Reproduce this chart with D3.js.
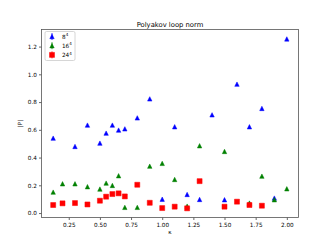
<!DOCTYPE html>
<html>
<head>
<meta charset="utf-8">
<script src="https://cdn.jsdelivr.net/npm/d3@7"></script>
<style>
  body { margin: 0; background: #fff; }
  text { font-family: "DejaVu Sans", sans-serif; fill: #000; }
</style>
</head>
<body>
<div id="chart"></div>
<script>
// Polyakov loop norm vs kappa, three lattice sizes

// Load the data
const x8 = [0.125, 0.3, 0.4, 0.5, 0.55, 0.6, 0.65, 0.7, 0.8, 0.9, 1.0, 1.1, 1.2, 1.3, 1.4, 1.5, 1.6, 1.7, 1.8, 1.9, 2.0];
const y8 = [0.54, 0.48, 0.634, 0.504, 0.576, 0.634, 0.598, 0.607, 0.686, 0.823, 0.10, 0.622, 0.134, 0.098, 0.708, 0.096, 0.929, 0.622, 0.754, 0.108, 1.255];

const x16 = [0.125, 0.2, 0.3, 0.4, 0.5, 0.55, 0.6, 0.65, 0.7, 0.8, 0.9, 1.0, 1.1, 1.2, 1.3, 1.5, 1.7, 1.8, 1.9, 2.0];
const y16 = [0.151, 0.211, 0.211, 0.19, 0.173, 0.216, 0.199, 0.269, 0.041, 0.041, 0.338, 0.358, 0.242, 0.05, 0.485, 0.444, 0.072, 0.266, 0.096, 0.175];

const x24 = [0.125, 0.2, 0.3, 0.4, 0.5, 0.55, 0.6, 0.65, 0.7, 0.8, 0.9, 1.0, 1.1, 1.2, 1.3, 1.5, 1.6, 1.7, 1.8];
const y24 = [0.058, 0.07, 0.072, 0.062, 0.089, 0.118, 0.137, 0.142, 0.12, 0.204, 0.074, 0.036, 0.046, 0.034, 0.23, 0.046, 0.082, 0.058, 0.053];

const xTicks = [0.25, 0.5, 0.75, 1.0, 1.25, 1.5, 1.75, 2.0];
const yTicks = [0.0, 0.2, 0.4, 0.6, 0.8, 1.0, 1.2];

const seriesNames = ["8", "16", "24"];
const seriesColors = ["#0000ff", "#008000", "#ff0000"];
const seriesShapes = ["tri", "tri", "sq"];

// Set up the chart dimensions
const W = 332, H = 249;
const margin = { top: 29.5, right: 33.5, bottom: 31.5, left: 41.5 };
const width = W - margin.left - margin.right;
const height = H - margin.top - margin.bottom;

const svg = d3.select("#chart")
    .append("svg")
    .attr("width", W)
    .attr("height", H);

const g = svg.append("g")
    .attr("transform", "translate(" + margin.left + "," + margin.top + ")");

const x = d3.scaleLinear().domain([0.03125, 2.09375]).range([0, width]);
const y = d3.scaleLinear().domain([-0.032, 1.323]).range([height, 0]);

// Axes
const xAxis = g.append("g")
    .attr("transform", "translate(0," + height + ")")
    .call(d3.axisBottom(x).tickValues(xTicks).tickFormat(d3.format(".2f")).tickSize(2.5).tickPadding(2.5));
const yAxis = g.append("g")
    .call(d3.axisLeft(y).tickValues(yTicks).tickFormat(d3.format(".1f")).tickSize(2.5).tickPadding(2.2));

[xAxis, yAxis].forEach(a => {
    a.select(".domain").remove();
    a.selectAll("line").attr("stroke", "#000").attr("stroke-width", 0.6);
    a.selectAll("text").style("font-size", "5.7px").attr("fill", "#000");
});

// Frame
g.append("rect")
    .attr("x", 0).attr("y", 0)
    .attr("width", width).attr("height", height)
    .attr("fill", "none")
    .attr("stroke", "#555")
    .attr("stroke-width", 0.8);

// Marker paths
function markerPath(shape, s) {
    if (shape === "tri") {
        return "M0," + (-s) + "L" + s + "," + s + "L" + (-s) + "," + s + "Z";
    }
    return "M" + (-s) + "," + (-s) + "H" + s + "V" + s + "H" + (-s) + "Z";
}

const series = [
    { xs: x8, ys: y8 },
    { xs: x16, ys: y16 },
    { xs: x24, ys: y24 }
];

series.forEach((s, i) => {
    const pts = s.xs.map((v, j) => [v, s.ys[j]]);
    g.append("g").selectAll("path")
        .data(pts)
        .enter().append("path")
        .attr("transform", d => "translate(" + x(d[0]) + "," + y(d[1]) + ")")
        .attr("d", markerPath(seriesShapes[i], seriesShapes[i] === "tri" ? 2.2 : 2.5))
        .attr("fill", seriesColors[i])
        .attr("stroke", seriesColors[i])
        .attr("stroke-width", 0.5);
});

// Title and axis labels
svg.append("text")
    .attr("x", margin.left + width / 2)
    .attr("y", 26.5)
    .attr("text-anchor", "middle")
    .style("font-size", "6.8px")
    .text("Polyakov loop norm");

svg.append("text")
    .attr("x", margin.left + width / 2)
    .attr("y", 234)
    .attr("text-anchor", "middle")
    .style("font-size", "5.7px")
    .text("κ");

svg.append("text")
    .attr("transform", "translate(22," + (margin.top + height / 2) + ") rotate(-90)")
    .attr("text-anchor", "middle")
    .style("font-size", "5.7px")
    .text("|P|");

// Legend
const legend = g.append("g").attr("transform", "translate(3.5,2)");
legend.append("rect")
    .attr("width", 30).attr("height", 29)
    .attr("rx", 1.5)
    .attr("fill", "#fff")
    .attr("stroke", "#ccc")
    .attr("stroke-width", 0.8);

const item = legend.selectAll(".item")
    .data(seriesNames)
    .enter().append("g")
    .attr("transform", (d, i) => "translate(0," + (5 + i * 9.2) + ")");

item.append("line")
    .attr("x1", 7).attr("x2", 7)
    .attr("y1", -3.5).attr("y2", 3.5)
    .attr("stroke", (d, i) => seriesColors[i])
    .attr("stroke-width", 0.8);

item.append("path")
    .attr("transform", "translate(7,0)")
    .attr("d", (d, i) => markerPath(seriesShapes[i], seriesShapes[i] === "tri" ? 2.2 : 2.5))
    .attr("fill", (d, i) => seriesColors[i])
    .attr("stroke", (d, i) => seriesColors[i])
    .attr("stroke-width", 0.5);

const lt = item.append("text")
    .attr("x", 17)
    .attr("y", 2.1)
    .style("font-size", "5.7px");
lt.append("tspan").text(d => d);
lt.append("tspan").attr("dy", -2.4).style("font-size", "4px").text("4");
</script>
</body>
</html>
